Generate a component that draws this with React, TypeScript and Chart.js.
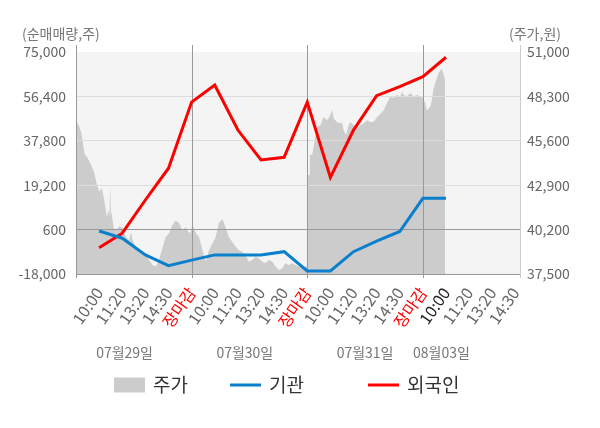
import { useEffect, useRef } from 'react';
import { Chart, registerables } from 'chart.js';

Chart.register(...registerables);

const FONT = '"Noto Sans CJK KR", "Noto Sans", sans-serif';

// x tick labels (positions 1..19)
const xLabels = [
  '10:00', '11:20', '13:20', '14:30', '장마감',
  '10:00', '11:20', '13:20', '14:30', '장마감',
  '10:00', '11:20', '13:20', '14:30', '장마감',
  '10:00', '11:20', '13:20', '14:30',
];
const closeTicks = [5, 10, 15];
const currentTick = 16;

const dateLabels = ['07월29일', '07월30일', '07월31일', '08월03일'];
const datePositions = [2.1, 7.3, 12.5, 15.8];

// 기관 / 외국인 net volume at each labelled time
const lineTimes = [1, 2, 3, 4, 5, 6, 7, 8, 9, 10, 11, 12, 13, 14, 15, 16];
const instVals = [0, -3000, -10000, -14500, -12200, -10000, -10000, -10000, -8650, -16750, -16750, -8650, -4200, -200, 13700, 13700];
const forVals = [-7000, -900, 13000, 26300, 54000, 61200, 42300, 29800, 30900, 54000, 22500, 42300, 56700, 60500, 64700, 72800];

// 주가 (intraday price)
const priceTimes = [
  0.0, 0.13, 0.22, 0.29, 0.36, 0.5, 0.65, 0.79, 0.91, 1.01, 1.11, 1.22, 1.34, 1.39, 1.45, 1.48, 1.51, 1.54, 1.63, 1.73,
  1.87, 2.01, 2.16, 2.3, 2.37, 2.45, 2.59, 2.73, 2.88, 3.02, 3.16, 3.31, 3.45, 3.59, 3.74, 3.88, 4.03, 4.17, 4.31, 4.46,
  4.6, 4.74, 4.89, 4.96,
  5.03, 5.18, 5.32, 5.47, 5.61, 5.75, 5.9, 6.04, 6.18, 6.33, 6.47, 6.61, 6.76, 6.9, 7.04, 7.19, 7.33, 7.47, 7.62, 7.77,
  7.91, 8.05, 8.2, 8.34, 8.49, 8.63, 8.77, 8.92, 9.06, 9.2, 9.35, 9.49, 9.63, 9.78, 9.92, 9.99,
  10.0, 10.08, 10.11, 10.21, 10.28, 10.35, 10.43, 10.57, 10.71, 10.86, 11.0, 11.07, 11.14, 11.29, 11.43, 11.5, 11.57,
  11.68, 11.79, 11.86, 12.01, 12.15, 12.3, 12.44, 12.58, 12.73, 12.87, 13.02, 13.16, 13.3, 13.45, 13.59, 13.73, 13.88,
  14.02, 14.1, 14.16, 14.31, 14.45, 14.6, 14.74, 14.88, 15.0,
  15.1, 15.17, 15.31, 15.38, 15.45, 15.53, 15.67, 15.81, 15.88, 15.96,
];
const priceVals = [
  46850, 46500, 46150, 45550, 44850, 44550, 44150, 43650, 42900, 42500, 42750, 42000, 40900, 41400, 41000, 42900, 41200, 41200, 40300, 40150,
  40400, 40300, 39750, 39550, 40050, 39550, 39150, 38850, 38750, 38650, 38350, 38050, 37950, 38350, 39100, 39750, 40000, 40500, 40750, 40600,
  40150, 40350, 40000, 40050,
  40500, 40000, 39750, 38950, 38250, 38950, 39350, 39750, 40600, 40850, 40350, 39750, 39450, 39150, 38950, 38850, 38650, 38250, 38350, 38550,
  38450, 38250, 38150, 38350, 38250, 37950, 37750, 37850, 38150, 38050, 38150, 38050, 37950, 37850, 37950, 37950,
  43500, 43500, 44750, 44750, 45250, 45850, 46450, 46550, 47050, 46850, 47150, 47500, 46950, 46750, 46650, 46750, 46250,
  45950, 46550, 46750, 46550, 46350, 46550, 46650, 46850, 46750, 46750, 47050, 47250, 47450, 47900, 48300, 48200, 48400,
  48300, 48600, 48400, 48300, 48500, 48300, 48400, 48300, 48200,
  47900, 47450, 47650, 48000, 48700, 49100, 49700, 50000, 49700, 49300,
];

const leftMin = -18000;
const leftMax = 75000;
const leftStep = 18600;
const rightMin = 37500;
const rightMax = 51000;
const rightStep = 2700;

const legendX = [114, 230, 368];

const decor = {
  id: 'decor',
  beforeDraw(chart: any) {
    const { ctx, chartArea: a } = chart;
    ctx.save();
    ctx.fillStyle = '#f4f4f4';
    ctx.fillRect(a.left, a.top, a.right - a.left, a.bottom - a.top);
    ctx.restore();
  },
  afterDatasetDraw(chart: any, args: any) {
    if (args.index !== 0) return;
    const { ctx, chartArea: a, scales } = chart;
    scales.y.drawGrid(a);
    ctx.save();
    ctx.lineWidth = 1;
    const vl = (px: number, color: string) => {
      const x = Math.round(px) + 0.5;
      ctx.strokeStyle = color;
      ctx.beginPath();
      ctx.moveTo(x, a.top - 7);
      ctx.lineTo(x, a.bottom + 4);
      ctx.stroke();
    };
    vl(a.left - 0.5, '#999');
    closeTicks.forEach((v) => vl(scales.x.getPixelForValue(v), '#999'));
    vl(a.right - 0.5, '#ccc');
    ctx.restore();
  },
  afterDraw(chart: any) {
    const { ctx, scales } = chart;
    ctx.save();
    ctx.textBaseline = 'middle';
    ctx.font = `14px ${FONT}`;
    ctx.fillStyle = '#777';
    ctx.textAlign = 'left';
    ctx.fillText('(순매매량,주)', 22, 34);
    ctx.fillText('(주가,원)', 509, 34);
    ctx.textAlign = 'center';
    dateLabels.forEach((t, i) => {
      ctx.fillText(t, scales.x.getPixelForValue(datePositions[i]), 353);
    });
    // legend
    const ds = chart.data.datasets;
    const ly = 385;
    ctx.font = `19px ${FONT}`;
    ctx.textAlign = 'left';
    ds.forEach((d: any, i: number) => {
      const x = legendX[i];
      if (i === 0) {
        ctx.fillStyle = d.backgroundColor;
        ctx.fillRect(x, ly - 7.5, 31, 15);
      } else {
        ctx.strokeStyle = d.borderColor;
        ctx.lineWidth = 3;
        ctx.beginPath();
        ctx.moveTo(x, ly);
        ctx.lineTo(x + 31, ly);
        ctx.stroke();
      }
      ctx.fillStyle = '#333';
      ctx.fillText(d.label, x + 39, ly);
    });
    ctx.restore();
  },
};

export default function App() {
  const ref = useRef<HTMLCanvasElement | null>(null);

  useEffect(() => {
    if (!ref.current) return;
    const chart = new Chart(ref.current, {
      type: 'line',
      data: {
        datasets: [
          {
            label: '주가',
            data: priceTimes.map((t, i) => ({ x: t, y: priceVals[i] })),
            yAxisID: 'y1',
            fill: 'start',
            backgroundColor: '#cccccc',
            borderColor: '#cccccc',
            borderWidth: 0,
            pointRadius: 0,
            tension: 0,
            order: 2,
          },
          {
            label: '기관',
            data: lineTimes.map((t, i) => ({ x: t, y: instVals[i] })),
            yAxisID: 'y',
            borderColor: '#0a80cc',
            backgroundColor: '#0a80cc',
            borderWidth: 3,
            pointRadius: 0,
            fill: false,
            tension: 0,
            order: 1,
          },
          {
            label: '외국인',
            data: lineTimes.map((t, i) => ({ x: t, y: forVals[i] })),
            yAxisID: 'y',
            borderColor: '#ff0000',
            backgroundColor: '#ff0000',
            borderWidth: 3,
            pointRadius: 0,
            fill: false,
            tension: 0,
            order: 1,
          },
        ],
      },
      options: {
        responsive: true,
        maintainAspectRatio: false,
        animation: false,
        events: [],
        layout: { padding: { top: 52, left: 0, right: 0, bottom: 0 } },
        plugins: {
          legend: { display: false },
          tooltip: { enabled: false },
        },
        scales: {
          x: {
            type: 'linear',
            min: 0,
            max: 19.2,
            afterBuildTicks: (s: any) => {
              s.ticks = xLabels.map((_, i) => ({ value: i + 1 }));
            },
            afterFit: (s: any) => {
              s.height = 154;
            },
            grid: { display: false, drawTicks: false },
            border: { display: true, color: '#999' },
            ticks: {
              autoSkip: false,
              minRotation: 55,
              maxRotation: 55,
              padding: 10,
              font: { family: FONT, size: 16 },
              color: (c: any) =>
                closeTicks.includes(c.tick?.value) ? '#ff0000' : c.tick?.value === currentTick ? '#222' : '#666',
              callback: (v: any) => xLabels[Number(v) - 1] ?? '',
            },
          },
          y: {
            type: 'linear',
            position: 'left',
            min: leftMin,
            max: leftMax,
            afterFit: (s: any) => {
              s.width = 76;
            },
            grid: {
              drawTicks: false,
              color: (c: any) => {
                const v = c.tick?.value;
                if (v === leftMax) return 'rgba(0,0,0,0)';
                if (v === 600 || v === leftMin) return '#999';
                return '#dddddd';
              },
            },
            border: { display: false },
            ticks: {
              stepSize: leftStep,
              padding: 10,
              font: { family: FONT, size: 14 },
              color: '#666',
              callback: (v: any) => Number(v).toLocaleString('en-US'),
            },
          },
          y1: {
            type: 'linear',
            position: 'right',
            min: rightMin,
            max: rightMax,
            afterFit: (s: any) => {
              s.width = 80;
            },
            grid: { display: false, drawTicks: false },
            border: { display: false },
            ticks: {
              stepSize: rightStep,
              padding: 7,
              font: { family: FONT, size: 14 },
              color: '#666',
              callback: (v: any) => Number(v).toLocaleString('en-US'),
            },
          },
        },
      },
      plugins: [decor],
    } as any);
    return () => chart.destroy();
  }, []);

  return (
    <div style={{ position: 'absolute', left: 0, top: 0, width: 600, height: 428, background: '#fff' }}>
      <canvas ref={ref} />
    </div>
  );
}
